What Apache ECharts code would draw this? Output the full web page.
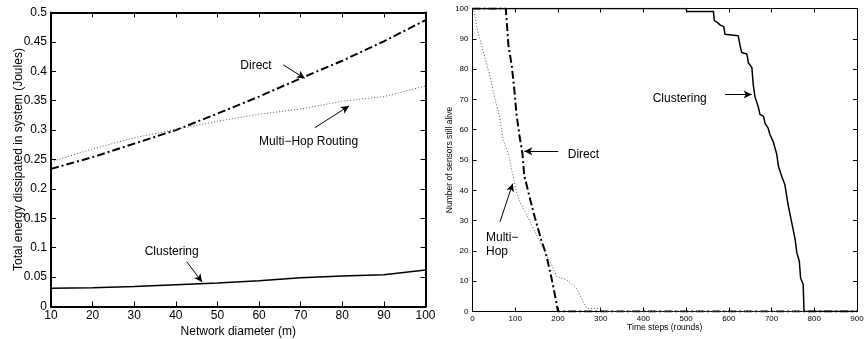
<!DOCTYPE html>
<html>
<head>
<meta charset="utf-8">
<script src="https://cdn.jsdelivr.net/npm/echarts@6/dist/echarts.min.js"></script>
<style>
  html, body { margin: 0; padding: 0; background: #fff; }
  #chart { width: 865px; height: 339px; }
</style>
</head>
<body>
<div id="chart"></div>
<script>
// Left panel: energy vs network diameter
const diameters = [10, 20, 30, 40, 50, 60, 70, 80, 90, 100];
const directEnergy = [0.234, 0.254, 0.277, 0.300, 0.328, 0.357, 0.388, 0.418, 0.451, 0.487];
const multiHopEnergy = [0.246, 0.268, 0.287, 0.301, 0.315, 0.327, 0.336, 0.349, 0.357, 0.375];
const clusteringEnergy = [0.031, 0.032, 0.034, 0.037, 0.040, 0.044, 0.049, 0.052, 0.054, 0.062];

// Right panel: sensors alive vs rounds
const directRounds = [0, 78, 84, 92, 98, 103, 110, 117, 121, 135, 146, 160, 172, 185, 195, 200, 900];
const directAlive = [100, 100, 88, 81, 73, 65, 58, 52, 45, 37, 31, 24, 19, 11, 4, 0, 0];
const multiHopRounds = [0, 4, 10, 18, 29, 41, 53, 64, 72, 84, 90, 96, 103, 111, 123, 139, 154, 170, 185, 197, 220, 244, 260, 268, 300, 305, 900];
const multiHopAlive = [100, 99, 94, 89.5, 84, 77.5, 70, 64, 56.5, 52, 48, 44, 39.5, 36, 33, 28.5, 24, 19.5, 15.5, 11.5, 10.5, 7.5, 3, 1, 1, 0, 0];
const clusterRounds = [0, 501, 501, 564, 566, 572, 580, 588, 591, 622, 626, 630, 642, 646, 654, 657, 661, 669, 673, 681, 685, 692, 696, 704, 708, 712, 716, 724, 731, 735, 739, 747, 755, 759, 765, 768, 774, 776, 900];
const clusterAlive = [100, 100, 99, 99, 96, 95.5, 94.5, 94, 91.5, 91, 88, 85.5, 85, 82, 80.5, 75, 71, 67.5, 65, 64.5, 62, 60.5, 58.5, 56, 54, 52, 48, 44.5, 42, 38.5, 35, 29.5, 24, 19.5, 16.5, 11, 9, 0, 0];

const FONT = "'Liberation Sans', Arial, Helvetica, sans-serif";
const zip = (xs, ys) => xs.map((x, i) => [x, ys[i]]);

const chart = echarts.init(document.getElementById("chart"), null, { renderer: "canvas" });

function axisBase(opts) {
  return Object.assign({
    type: "value",
    nameMoveOverlap: false,
    axisLine: { show: true, onZero: false, lineStyle: { color: "#000", width: opts.lw } },
    axisTick: { show: true, inside: true, length: opts.tick, lineStyle: { color: "#000", width: 1 } },
    splitLine: { show: false },
    axisLabel: { show: false },
  }, opts.extra);
}

function label(fontSize, extra) {
  return Object.assign({ show: true, color: "#000", fontFamily: FONT, fontSize: fontSize }, extra || {});
}

function note(coord, text, fontSize) {
  return {
    coord: coord,
    symbol: "circle",
    symbolSize: 0,
    label: { show: true, position: "inside", formatter: text, color: "#000", fontFamily: FONT, fontSize: fontSize, lineHeight: fontSize + 2, align: "left" },
  };
}

function arrow(from, to) {
  return [{ coord: from }, { coord: to }];
}

const arrowStyle = {
  symbol: ["none", "arrow"],
  symbolSize: [6, 8],
  silent: true,
  label: { show: false },
  lineStyle: { color: "#000", width: 1, type: "solid" },
  animation: false,
};

chart.setOption({
  animation: false,
  grid: [
    { left: 51, top: 12.5, right: 439.5, bottom: 32.5, outerBoundsMode: "none", containLabel: false },
    { left: 472.5, top: 8.5, right: 8, bottom: 27.5, outerBoundsMode: "none", containLabel: false },
  ],
  xAxis: [
    axisBase({ lw: 2, tick: 5, extra: {
      gridIndex: 0, position: "bottom", min: 10, max: 100, interval: 10,
      axisLabel: label(12, { margin: 3 }),
      name: "Network diameter (m)", nameLocation: "middle", nameGap: 19,
      nameTextStyle: { color: "#000", fontFamily: FONT, fontSize: 12 },
    } }),
    axisBase({ lw: 2, tick: 5, extra: { gridIndex: 0, position: "top", min: 10, max: 100, interval: 10 } }),
    axisBase({ lw: 1, tick: 4, extra: {
      gridIndex: 1, position: "bottom", min: 0, max: 900, interval: 100,
      axisLabel: label(8, { margin: 3 }),
      name: "Time steps (rounds)", nameLocation: "middle", nameGap: 12,
      nameTextStyle: { color: "#000", fontFamily: FONT, fontSize: 8.5 },
    } }),
    axisBase({ lw: 1, tick: 4, extra: { gridIndex: 1, position: "top", min: 0, max: 900, interval: 100 } }),
  ],
  yAxis: [
    axisBase({ lw: 2, tick: 5, extra: {
      gridIndex: 0, position: "left", min: 0, max: 0.5, interval: 0.05,
      axisLabel: label(12, { margin: 4, formatter: (v) => String(parseFloat(v.toFixed(2))) }),
      name: "Total energy dissipated in system (Joules)", nameLocation: "middle", nameGap: 26,
      nameTextStyle: { color: "#000", fontFamily: FONT, fontSize: 12 },
    } }),
    axisBase({ lw: 2, tick: 5, extra: { gridIndex: 0, position: "right", min: 0, max: 0.5, interval: 0.05 } }),
    axisBase({ lw: 1, tick: 4, extra: {
      gridIndex: 1, position: "left", min: 0, max: 100, interval: 10,
      axisLabel: label(8, { margin: 4 }),
      name: "Number of sensors still alive", nameLocation: "middle", nameGap: 18,
      nameTextStyle: { color: "#000", fontFamily: FONT, fontSize: 8.5 },
    } }),
    axisBase({ lw: 1, tick: 4, extra: { gridIndex: 1, position: "right", min: 0, max: 100, interval: 10 } }),
  ],
  series: [
    {
      name: "Direct", type: "line", xAxisIndex: 0, yAxisIndex: 0, symbol: "none",
      data: zip(diameters, directEnergy),
      lineStyle: { color: "#000", width: 2, type: [8, 3, 2, 3] },
      markPoint: { silent: true, animation: false, data: [note([55.5, 0.409], "Direct", 12)] },
      markLine: Object.assign({ data: [arrow([65.8, 0.411], [71.0, 0.388])] }, arrowStyle),
    },
    {
      name: "Multi-Hop Routing", type: "line", xAxisIndex: 0, yAxisIndex: 0, symbol: "none",
      data: zip(diameters, multiHopEnergy),
      lineStyle: { color: "#555", width: 1, type: [1, 2] },
      markPoint: { silent: true, animation: false, data: [note([60.0, 0.281], "Multi\u2212Hop Routing", 12)] },
      markLine: Object.assign({ data: [arrow([73.4, 0.304], [81.6, 0.341])] }, arrowStyle),
    },
    {
      name: "Clustering", type: "line", xAxisIndex: 0, yAxisIndex: 0, symbol: "none",
      data: zip(diameters, clusteringEnergy),
      lineStyle: { color: "#000", width: 1.5 },
      markPoint: { silent: true, animation: false, data: [note([32.5, 0.0935], "Clustering", 12)] },
      markLine: Object.assign({ data: [arrow([42.6, 0.0765], [46.3, 0.0415])] }, arrowStyle),
    },
    {
      name: "Direct", type: "line", xAxisIndex: 2, yAxisIndex: 2, symbol: "none",
      data: zip(directRounds, directAlive),
      lineStyle: { color: "#000", width: 2, type: [8, 3, 2, 3] },
      markPoint: { silent: true, animation: false, data: [note([223, 51.9], "Direct", 12)] },
      markLine: Object.assign({ data: [arrow([200.8, 52.9], [121.2, 52.9])] }, arrowStyle),
    },
    {
      name: "Multi-Hop", type: "line", xAxisIndex: 2, yAxisIndex: 2, symbol: "none",
      data: zip(multiHopRounds, multiHopAlive),
      lineStyle: { color: "#555", width: 1, type: [1, 2] },
      markPoint: { silent: true, animation: false, data: [note([31.6, 22], "Multi\u2212\nHop", 12)] },
      markLine: Object.assign({ data: [arrow([64.4, 29.6], [94.1, 42.2])] }, arrowStyle),
    },
    {
      name: "Clustering", type: "line", xAxisIndex: 2, yAxisIndex: 2, symbol: "none",
      data: zip(clusterRounds, clusterAlive),
      lineStyle: { color: "#000", width: 1.5 },
      markPoint: { silent: true, animation: false, data: [note([421.8, 70.4], "Clustering", 12)] },
      markLine: Object.assign({ data: [arrow([591, 71.6], [653.5, 71.6])] }, arrowStyle),
    },
  ],
});
</script>
</body>
</html>
